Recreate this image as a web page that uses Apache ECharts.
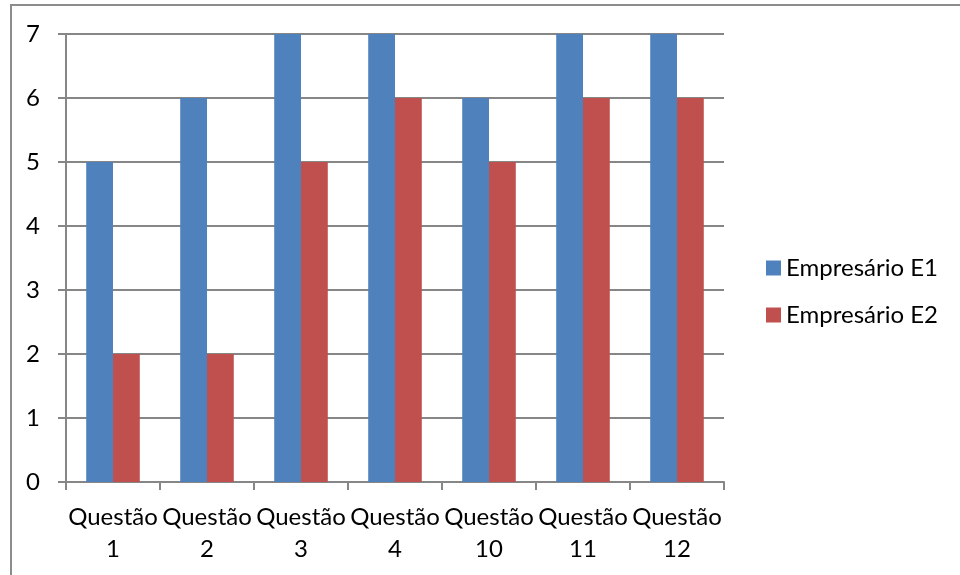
<!DOCTYPE html>
<html>
<head>
<meta charset="utf-8">
<script src="https://cdn.jsdelivr.net/npm/echarts@6/dist/echarts.min.js"></script>
<style>
  html, body { margin: 0; padding: 0; background: #fff; }
  #frame { position: absolute; left: 10px; top: 4px; width: 960px; height: 580px; border: 2px solid #8c8c8c; box-sizing: border-box; }
  #chart { position: absolute; left: 0; top: 0; width: 960px; height: 575px; }
</style>
</head>
<body>
<div id="frame"></div>
<div id="chart"></div>
<script>
const categories = ['Questão\n1', 'Questão\n2', 'Questão\n3', 'Questão\n4', 'Questão\n10', 'Questão\n11', 'Questão\n12'];
const empresarioE1 = [5, 6, 7, 7, 6, 7, 7];
const empresarioE2 = [2, 2, 5, 6, 5, 6, 6];
const yTicks = [0, 1, 2, 3, 4, 5, 6, 7];

const FONT = 'Lato';
const chart = echarts.init(document.getElementById('chart'), null, { renderer: 'canvas' });
chart.setOption({
  backgroundColor: 'transparent',
  animation: false,
  textStyle: { fontFamily: FONT },
  grid: { left: 66, top: 34, width: 658, height: 448, containLabel: false },
  legend: {
    orient: 'vertical',
    left: 766,
    top: 256,
    padding: 0,
    itemWidth: 15,
    itemHeight: 15,
    itemGap: 23,
    icon: 'rect',
    textStyle: { fontFamily: FONT, fontSize: 24, color: '#000', padding: [0, 0, 0, 0] },
    data: ['Empresário E1', 'Empresário E2']
  },
  xAxis: {
    type: 'category',
    data: categories,
    axisLine: { show: true, lineStyle: { color: '#868686', width: 2 } },
    axisTick: { show: true, alignWithLabel: false, length: 8, lineStyle: { color: '#868686', width: 2 } },
    axisLabel: { fontFamily: FONT, fontSize: 24, color: '#000', margin: 19, lineHeight: 32, interval: 0 },
    splitLine: { show: false }
  },
  yAxis: {
    type: 'value',
    min: yTicks[0],
    max: yTicks[yTicks.length - 1],
    interval: 1,
    axisLine: { show: true, lineStyle: { color: '#868686', width: 2 } },
    axisTick: { show: true, length: 8, lineStyle: { color: '#868686', width: 2 } },
    axisLabel: { fontFamily: FONT, fontSize: 24, color: '#000', margin: 26 },
    splitLine: { show: true, lineStyle: { color: '#868686', width: 2 } }
  },
  series: [
    {
      name: 'Empresário E1',
      type: 'bar',
      data: empresarioE1,
      itemStyle: { color: '#4F81BD' },
      barGap: '0%',
      barCategoryGap: '43%'
    },
    {
      name: 'Empresário E2',
      type: 'bar',
      data: empresarioE2,
      itemStyle: { color: '#C0504D' },
      barGap: '0%',
      barCategoryGap: '43%'
    }
  ]
});
</script>
</body>
</html>
